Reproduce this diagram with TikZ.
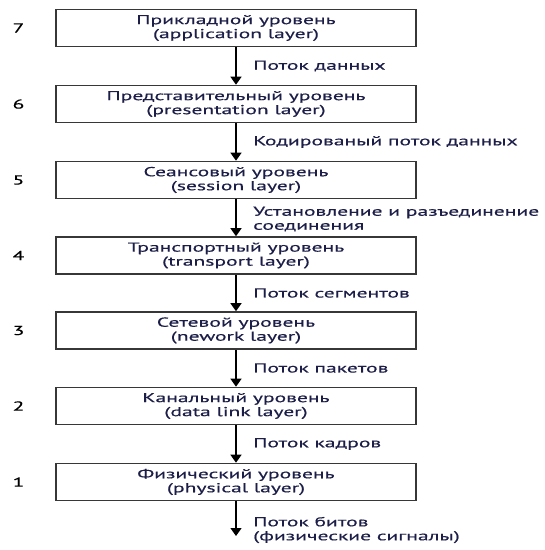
\documentclass[tikz,border=0pt]{standalone}
\usepackage{fontspec}
\setmainfont{PT Sans}[FakeStretch=1.66,FakeBold=0.4]
\usetikzlibrary{arrows.meta}
\definecolor{ink}{RGB}{28,30,72}
\definecolor{frame}{RGB}{55,55,55}
\begin{document}
\begin{tikzpicture}[x=1pt,y=-1pt,
  font=\fontsize{13}{14}\selectfont,
  layer/.style={draw=frame,line width=1.6pt,minimum width=360pt,minimum height=37pt,
    align=center,text=ink,inner sep=0pt},
  num/.style={text=black,font=\fontsize{13}{14}\selectfont},
  flow/.style={draw=black,line width=1.3pt,-{Triangle[length=8pt,width=11pt]}},
  lbl/.style={anchor=west,text=ink,align=left,inner sep=0pt}]
\useasboundingbox (0,0) rectangle (545,550);
% layer boxes
\node[layer] (l7) at (236,28) {Прикладной уровень\\(application layer)};
\node[layer] (l6) at (236,104) {Представительный уровень\\(presentation layer)};
\node[layer] (l5) at (236,180) {Сеансовый уровень\\(session layer)};
\node[layer] (l4) at (236,255.5) {Транспортный уровень\\(transport layer)};
\node[layer] (l3) at (236,330.5) {Сетевой уровень\\(nework layer)};
\node[layer] (l2) at (236,406) {Канальный уровень\\(data link layer)};
\node[layer] (l1) at (236,482) {Физический уровень\\(physical layer)};
% layer numbers
\node[num] (n7) at (18.5,28) {7};
\node[num] (n6) at (18.5,104) {6};
\node[num] (n5) at (18.5,180) {5};
\node[num] (n4) at (18.5,255.5) {4};
\node[num] (n3) at (18.5,330.5) {3};
\node[num] (n2) at (18.5,406) {2};
\node[num] (n1) at (18.5,482) {1};
% data flow between layers
\coordinate (out) at (236,536);
\draw[flow] (l7) -- (l6);
\draw[flow] (l6) -- (l5);
\draw[flow] (l5) -- (l4);
\draw[flow] (l4) -- (l3);
\draw[flow] (l3) -- (l2);
\draw[flow] (l2) -- (l1);
\draw[flow] (l1) -- (out);
% flow labels
\node[lbl] (f7) at (253,66) {Поток данных};
\node[lbl] (f6) at (253,142) {Кодированый поток данных};
\node[lbl] (f5) at (253,219) {Установление и разъединение\\соединения};
\node[lbl] (f4) at (253,293) {Поток сегментов};
\node[lbl] (f3) at (253,368) {Поток пакетов};
\node[lbl] (f2) at (253,444) {Поток кадров};
\node[lbl] (f1) at (253,530) {Поток битов\\(физические сигналы)};
\end{tikzpicture}
\end{document}
